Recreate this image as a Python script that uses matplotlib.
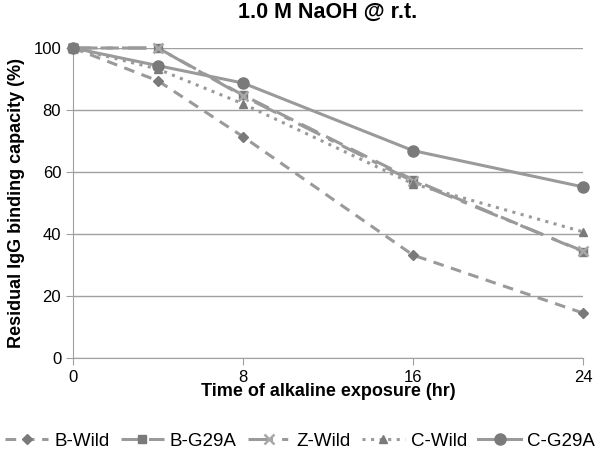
import matplotlib
matplotlib.use('Agg')
import matplotlib.pyplot as plt

plt.rcParams['font.family'] = ['Liberation Sans', 'DejaVu Sans']

hours = [0, 4, 8, 16, 24]
b_wild = [100, 89.4, 71.4, 33.2, 14.5]
b_g29a = [100, 100, 84.8, 57.5, 34.3]
z_wild = [100, 100, 84.5, 57.0, 34.5]
c_wild = [100, 93.2, 82.0, 56.2, 40.7]
c_g29a = [100, 94.3, 88.7, 66.9, 55.2]

line_c = '#9a9a9a'
mark_c = '#7a7a7a'

fig = plt.figure(figsize=(6, 4.62), dpi=100)
ax = fig.add_axes([0.1217, 0.2251, 0.85, 0.671])

ax.plot(hours, b_wild, color=line_c, lw=2.2, ls=(0, (3.5, 2.5)), marker='D', ms=5,
        mfc=mark_c, mec=mark_c, label='B-Wild', clip_on=False, zorder=3)
ax.plot(hours, b_g29a, color=line_c, lw=2.2, ls=(0, (6, 3)), marker='s', ms=6,
        mfc=mark_c, mec=mark_c, label='B-G29A', clip_on=False, zorder=3)
ax.plot(hours, z_wild, color=line_c, lw=2.2, ls=(0, (8, 3, 2, 3)), marker='x', ms=7,
        mew=1.8, mfc=mark_c, mec='#a8a8a8', label='Z-Wild', clip_on=False, zorder=3)
ax.plot(hours, c_wild, color=line_c, lw=2.2, ls=(0, (1, 1.8)), marker='^', ms=6,
        mfc=mark_c, mec=mark_c, label='C-Wild', clip_on=False, zorder=3)
ax.plot(hours, c_g29a, color=line_c, lw=2.2, ls='-', marker='o', ms=8,
        mfc=mark_c, mec=mark_c, label='C-G29A', clip_on=False, zorder=3)

ax.set_xlim(0, 24)
ax.set_ylim(0, 100)
ax.set_xticks([0, 8, 16, 24])
ax.set_yticks(range(0, 101, 20))
ax.yaxis.grid(True, color='#a0a0a0', lw=1)
ax.set_axisbelow(True)
for s in ['top', 'right']:
    ax.spines[s].set_visible(False)
for s in ['left', 'bottom']:
    ax.spines[s].set_color('#a0a0a0')
ax.tick_params(axis='both', colors='#a0a0a0', labelcolor='black', labelsize=12, length=5)

ax.set_title('1.0 M NaOH @ r.t.', fontsize=15.5, fontweight='bold', pad=22)
ax.set_xlabel('Time of alkaline exposure (hr)', fontsize=13, fontweight='bold', labelpad=-1)
ax.set_ylabel('Residual IgG binding capacity (%)', fontsize=13, fontweight='bold', labelpad=6)

fig.legend(loc='lower center', ncol=5, frameon=False, fontsize=13.5,
           bbox_to_anchor=(0.5, -0.01), handlelength=2.3, columnspacing=0.6, handletextpad=0.3)

fig.savefig('out.png', dpi=100)
